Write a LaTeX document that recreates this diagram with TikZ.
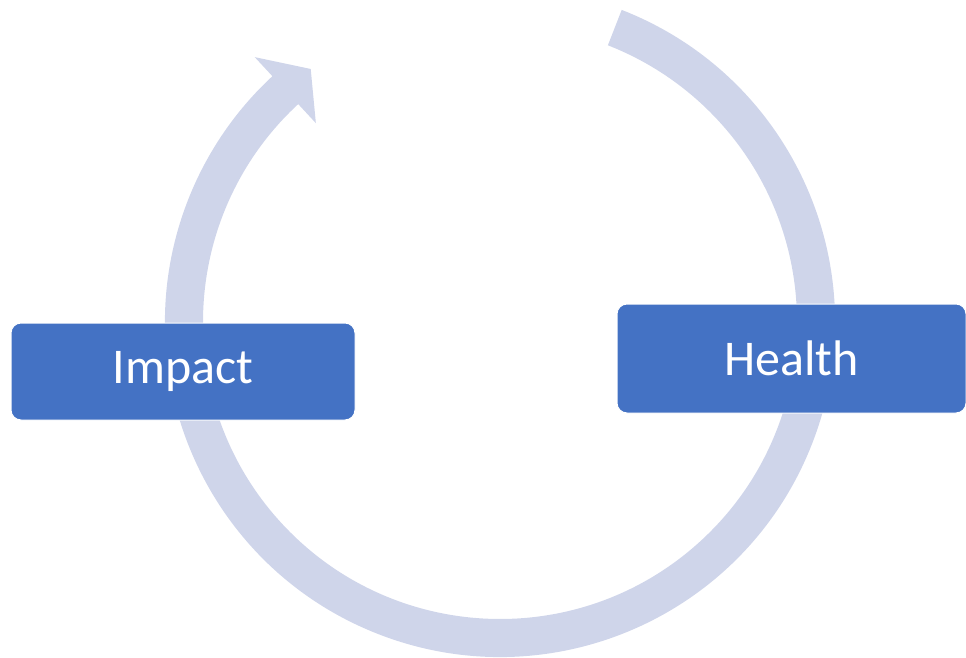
\documentclass[tikz,border=0pt]{standalone}
\usepackage{fontspec}
\setmainfont{Carlito}
\usetikzlibrary{calc}
\definecolor{ringcol}{RGB}{207,213,234}
\definecolor{boxcol}{RGB}{68,114,196}
\tikzset{
  stagebox/.style={draw=white, line width=1pt, fill=boxcol, rounded corners=10pt,
    inner sep=0pt, text=white, font=\fontsize{50}{60}\selectfont},
  ringfill/.style={fill=ringcol, draw=none}
}
\begin{document}
\begin{tikzpicture}[x=1pt,y=1pt]
\useasboundingbox (0,0) rectangle (966,657);
\coordinate (c) at (500,335);
% circular arrow running clockwise, head at upper left
\fill[ringfill] ($(c)+(68.7:335)$)
  arc[start angle=68.7, end angle=-227.2, radius=335pt]
  -- ($(c)+(-227.2:361)$)
  -- ($(c)+(-233.2:316)$)
  -- ($(c)+(-227.2:271)$)
  -- ($(c)+(-227.2:297)$)
  arc[start angle=-227.2, end angle=68.7, radius=297pt]
  -- cycle;
% stage boxes
\node[stagebox, minimum width=344pt, minimum height=97pt] (impact) at (183,285.5) {Impact};
\node[stagebox, minimum width=349pt, minimum height=109pt] (health) at (791.5,298.5) {Health};
\end{tikzpicture}
\end{document}
